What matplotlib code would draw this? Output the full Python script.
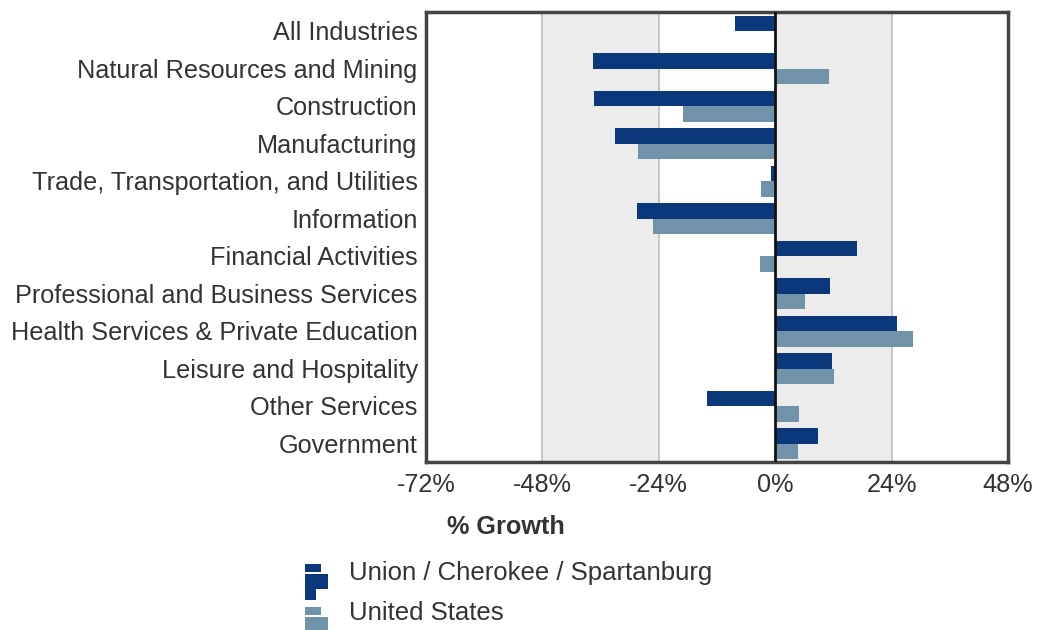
import numpy as np
import matplotlib
matplotlib.use("Agg")
import matplotlib.pyplot as plt
from matplotlib.patches import Rectangle

plt.rcParams['font.family'] = ['Liberation Sans', 'DejaVu Sans']

# data
industries = [
    "All Industries",
    "Natural Resources and Mining",
    "Construction",
    "Manufacturing",
    "Trade, Transportation, and Utilities",
    "Information",
    "Financial Activities",
    "Professional and Business Services",
    "Health Services & Private Education",
    "Leisure and Hospitality",
    "Other Services",
    "Government",
]
local_growth = [-8.2, -37.6, -37.4, -33.0, -0.9, -28.4, 16.9, 11.3, 25.1, 11.8, -14.1, 8.8]
us_growth = [0.0, 11.0, -19.0, -28.3, -3.0, -25.1, -3.1, 6.1, 28.4, 12.1, 5.0, 4.8]
series_names = ["Union / Cherokee / Spartanburg", "United States"]
ticks = [-72, -48, -24, 0, 24, 48]

DARK = "#0a387a"
LIGHT = "#7093aa"
BAND = "#ececec"
TEXT = "#333333"
FS = 18.2

fig = plt.figure(figsize=(10.38, 6.30), dpi=100)
ax = fig.add_axes([426 / 1038, 1 - 462 / 630, 582 / 1038, 450 / 630])

y = np.arange(len(industries))
h = 0.41
ax.barh(y - 0.19, local_growth, height=h, color=DARK, zorder=3)
ax.barh(y + 0.22, us_growth, height=h, color=LIGHT, zorder=3)

# alternating shaded bands
for lo in (-48, 0):
    ax.axvspan(lo, lo + 24, color=BAND, zorder=0, lw=0)
for g in (-48, -24, 24):
    ax.axvline(g, color="#bdbdbd", lw=1.2, zorder=1)
ax.axvline(0, color="#111111", lw=2, zorder=4)

ax.set_xlim(-72, 48)
ax.set_ylim(len(industries) - 0.5, -0.5)
ax.set_xticks(ticks)
ax.set_xticklabels([f"{t}%" for t in ticks], fontsize=FS, color=TEXT)
ax.set_yticks(y)
ax.set_yticklabels(industries, fontsize=FS, color=TEXT)
ax.tick_params(length=0, pad=6)
ax.tick_params(axis="x", pad=8)
for s in ax.spines.values():
    s.set_linewidth(2.5)
    s.set_color("#444444")

ax.set_xlabel("% Growth", fontsize=FS, fontweight="bold", color=TEXT)
ax.xaxis.set_label_coords(0.137, -0.118)

# legend with little bar icons
def icon(x0, y0, color):
    # three stacked bars, pixel units, y0 = top
    for dx, top, bot in ((16, 0, 8), (23, 10, 25), (11, 25, 36)):
        fig.add_artist(Rectangle((x0 / 1038, 1 - (y0 + bot) / 630), dx / 1038,
                                 (bot - top) / 630, color=color, lw=0,
                                 transform=fig.transFigure))

icon(305, 564, DARK)
icon(305, 607, LIGHT)
fig.text(349 / 1038, 1 - 573 / 630, series_names[0], fontsize=FS + 0.3, color=TEXT, va="center")
fig.text(349 / 1038, 1 - 613 / 630, series_names[1], fontsize=FS + 0.3, color=TEXT, va="center")

fig.savefig("out.png", dpi=100)
